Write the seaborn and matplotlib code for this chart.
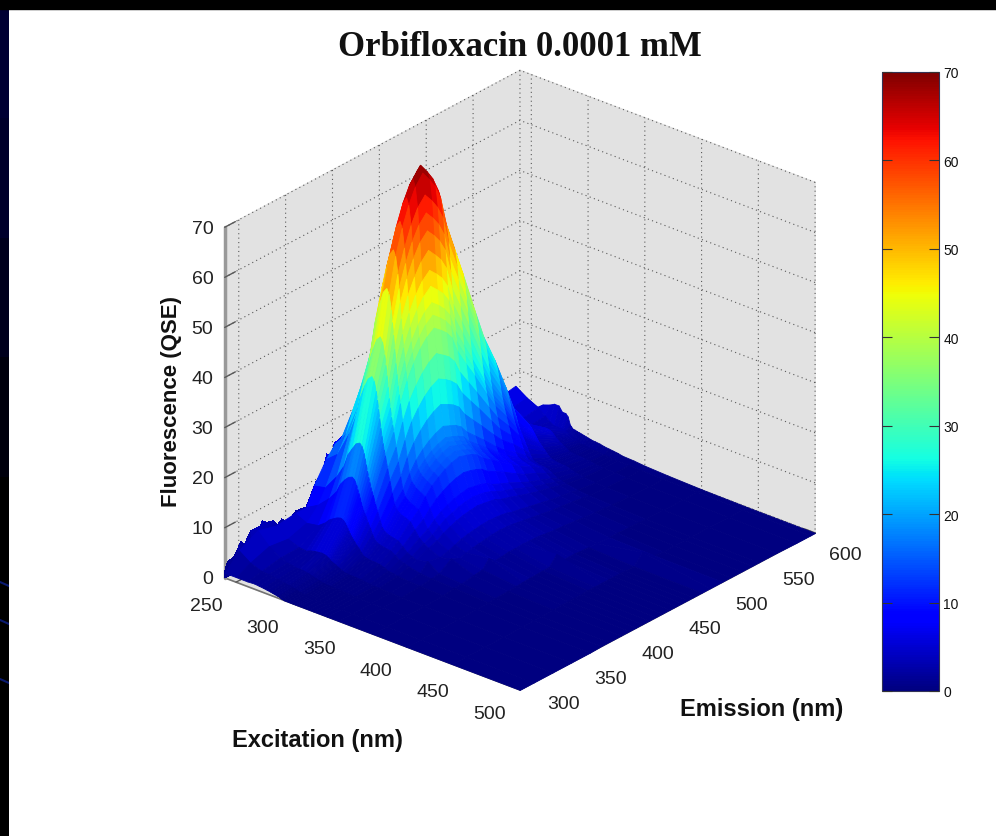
import numpy as np
import matplotlib
matplotlib.use('Agg')
import matplotlib.pyplot as plt
from matplotlib.colors import Normalize
from matplotlib.cm import ScalarMappable
from matplotlib.patches import Rectangle
import seaborn as sns

# values
excitation = [240, 250, 260, 266, 270, 274, 277, 280, 282, 284, 285, 286, 287, 288, 289, 290, 291, 292, 294,
              296, 298, 300, 302, 304, 306, 310, 314, 318, 322, 326, 330, 340, 350, 370, 400, 440, 500]
emission = [285, 300, 320, 340, 360, 372, 380, 393, 402, 409, 416, 423, 430, 437, 445, 452, 458, 464, 470,
            479, 488, 501, 510, 522, 533, 540, 559, 580, 595, 600]

ex240 = [1, 4, 6, 5, 5.5, 5.5, 9, 13, 15, 15.5, 17, 18, 18, 19, 20, 19.5, 18.5, 18, 17, 16, 14.5, 12.5, 11.5, 10.5, 10, 9, 8, 7, 7.5, 3]
ex250 = [1, 2.4, 3.7, 3.2, 4.4, 6.8, 9.5, 14.9, 18, 22, 25, 27.5, 29, 30.6, 31.5, 30.6, 29.7, 28.4, 25.7, 23, 20, 16, 13.5, 10.8, 8.4, 7.2, 6.4, 5.6, 6, 3.2]
ex260 = [1, 1.6, 2.3, 2.4, 4.8, 9, 12.6, 19.8, 24, 29.4, 33.6, 36.6, 39, 40.8, 42, 40.8, 39.6, 37.8, 34.2, 30.6, 27, 21.6, 18, 14.4, 10.6, 7.8, 5.2, 4.5, 4.9, 5]
ex266 = [1.1, 1.5, 1.8, 2.2, 5.8, 10.8, 15.1, 23.8, 28.8, 35.3, 40.3, 43.9, 46.8, 49, 50.4, 49, 47.5, 45.4, 41, 36.7, 32.4, 25.9, 21.6, 17.3, 12.7, 9.4, 5, 3.5, 3.8, 5.5]
ex270 = [1, 1.4, 1.7, 2.6, 6.8, 12.8, 17.9, 28, 34, 41.7, 47.6, 51.9, 55.3, 57.8, 59.5, 57.8, 56.1, 53.6, 48.5, 43.4, 38.3, 30.6, 25.5, 20.4, 15, 11, 6, 3.4, 3, 6]
ex274 = [.9, 1.2, 1.5, 2.8, 7.4, 14, 19.5, 30.7, 37.2, 45.6, 52, 56.7, 60.5, 63.2, 65.1, 63.2, 61.4, 58.6, 53, 47.4, 41.9, 33.5, 27.9, 22.3, 16.5, 12.1, 6.5, 3.7, 2.5, 6]
ex277 = [.8, 1.1, 1.5, 2.9, 7.8, 14.7, 20.6, 32.3, 39.2, 48, 54.9, 59.8, 63.7, 66.6, 68.6, 66.6, 64.7, 61.7, 55.9, 50, 44.1, 35.3, 29.4, 23.5, 17.3, 12.7, 6.9, 3.9, 2.5, 5]
ex280 = [.7, 1, 1.5, 3, 8, 15, 21, 33, 40, 49, 56, 61, 65, 68, 70, 68, 66, 63, 57, 51, 45, 36, 30, 24, 17.7, 13, 7, 4, 2.5, 5]
ex282 = [.6, .9, 1.4, 2.9, 7.8, 14.7, 20.6, 32.3, 39.2, 48, 54.9, 59.8, 63.7, 66.6, 68.6, 66.6, 64.7, 61.7, 55.9, 50, 44.1, 35.3, 29.4, 23.5, 17.3, 12.7, 6.9, 3.9, 2.5, 4.5]
ex284 = [.5, .8, 1.3, 2.8, 7.4, 13.8, 19.3, 30.4, 36.8, 45, 51.5, 56, 59.8, 62.6, 64.4, 62.6, 60.7, 58, 52.4, 46.9, 41.4, 33.1, 27.6, 22, 16.3, 12, 6.4, 3.7, 2.3, 3]
ex285 = [.5, .8, 1.3, 2.6, 7, 13, 18.3, 28.7, 34.8, 42.6, 48.7, 53, 56.6, 59.2, 60.9, 59.2, 57.4, 54.8, 49.6, 44.4, 39.2, 31.3, 26.1, 20.9, 15.4, 11.3, 6.1, 3.5, 2.2, 2.8]
ex286 = [.4, .7, 1.2, 2.5, 6.6, 12.3, 17.2, 27, 32.8, 40.2, 45.9, 50, 53.3, 55.8, 57.4, 55.8, 54.1, 51.7, 46.7, 41.8, 36.9, 29.5, 24.6, 19.7, 14.5, 10.7, 5.7, 3.3, 2.1, 2.5]
ex287 = [.4, .7, 1.1, 2.3, 6.1, 11.5, 16, 25.2, 30.6, 37.5, 42.8, 46.7, 49.7, 52, 53.6, 52, 50.5, 48.2, 43.6, 39, 34.4, 27.5, 23, 18.4, 13.5, 9.9, 5.4, 3.1, 1.9, 2.4]
ex288 = [.3, .6, 1.1, 2.1, 5.7, 10.7, 14.9, 23.4, 28.4, 34.8, 39.8, 43.3, 46.2, 48.3, 49.7, 48.3, 46.9, 44.7, 40.5, 36.2, 32, 25.6, 21.3, 17, 12.6, 9.2, 5, 2.8, 1.8, 2.4]
ex289 = [.2, .6, 1, 2, 5.3, 10, 14, 21.9, 26.6, 32.6, 37.2, 40.6, 43.2, 45.2, 46.6, 45.2, 43.9, 41.9, 37.9, 33.9, 29.9, 23.9, 20, 16, 11.8, 8.6, 4.7, 2.7, 1.7, 2.3]
ex290 = [.1, .5, .9, 1.9, 5, 9.3, 13, 20.5, 24.8, 30.4, 34.7, 37.8, 40.3, 42.2, 43.4, 42.2, 40.9, 39.1, 35.3, 31.6, 27.9, 22.3, 18.6, 14.9, 11, 8.1, 4.3, 2.5, 1.6, 2.3]
ex291 = [.1, .5, .9, 1.8, 4.7, 8.8, 12.3, 19.3, 23.4, 28.7, 32.8, 35.7, 38, 39.8, 41, 39.8, 38.6, 36.9, 33.3, 29.8, 26.3, 21, 17.6, 14, 10.4, 7.6, 4.1, 2.3, 1.5, 2.2]
ex292 = [0, .4, .8, 1.7, 4.4, 8.3, 11.6, 18.2, 22, 27, 30.8, 33.6, 35.8, 37.4, 38.5, 37.4, 36.3, 34.7, 31.4, 28, 24.8, 19.8, 16.5, 13.2, 9.7, 7.2, 3.9, 2.2, 1.4, 2.2]
ex294 = [0, .3, .7, 1.4, 3.8, 7.2, 10, 15.8, 19.2, 23.5, 26.9, 29.3, 31.2, 32.6, 33.6, 32.6, 31.7, 30.2, 27.4, 24.5, 21.6, 17.3, 14.4, 11.5, 8.5, 6.2, 3.4, 1.9, 1.2, 2.1]
ex296 = [0, .2, .6, 1.2, 3.3, 6.2, 8.6, 13.5, 16.4, 20, 23, 25, 26.7, 27.9, 28.7, 27.9, 27, 25.8, 23.4, 20.9, 18.5, 14.8, 12.3, 9.8, 7.3, 5.3, 2.9, 1.6, 1, 2]
ex298 = [0, .1, .5, 1, 2.7, 5.1, 7.1, 11.2, 13.6, 16.7, 19, 20.7, 22.1, 23.1, 23.8, 23.1, 22.4, 21.4, 19.4, 17.3, 15.3, 12.2, 10.2, 8.2, 6, 4.4, 2.4, 1.4, .9, 1.9]
ex300 = [0, 0, .4, .8, 2.2, 4.2, 5.9, 9.2, 11.2, 13.7, 15.7, 17.1, 18.2, 19, 19.6, 19, 18.5, 17.6, 16, 14.3, 12.6, 10, 8.4, 6.7, 5, 3.6, 2, 1.1, .9, 1.8]
ex302 = [0, 0, .4, .8, 2, 3.8, 5.3, 8.3, 10, 12.3, 14, 15.3, 16.3, 17, 17.5, 17, 16.5, 15.8, 14.3, 12.8, 11.3, 9, 7.5, 6, 4.4, 3.3, 1.8, 1, .8, 1.7]
ex304 = [0, 0, .4, .7, 1.9, 3.6, 5, 7.9, 9.6, 11.8, 13.4, 14.6, 15.6, 16.3, 16.8, 16.3, 15.8, 15.1, 13.7, 12.2, 10.8, 8.6, 7.2, 5.8, 4.2, 3.1, 1.7, 1, .8, 1.6]
ex306 = [0, 0, .3, .7, 1.8, 3.5, 4.8, 7.6, 9.2, 11.3, 12.9, 14, 15, 15.6, 16.1, 15.6, 15.2, 14.5, 13.1, 11.7, 10.4, 8.3, 6.9, 5.5, 4.1, 3, 1.6, .9, .7, 1.6]
ex310 = [0, 0, .3, .7, 1.8, 3.3, 4.6, 7.3, 8.8, 10.8, 12.3, 13.4, 14.3, 15, 15.4, 15, 14.5, 13.9, 12.5, 11.2, 9.9, 7.9, 6.6, 5.3, 3.9, 2.9, 1.5, .9, .6, 1.5]
ex314 = [0, 0, .3, .6, 1.7, 3.2, 4.4, 6.9, 8.4, 10.3, 11.8, 12.8, 13.7, 14.3, 14.7, 14.3, 13.9, 13.2, 12, 10.7, 9.5, 7.6, 6.3, 5, 3.7, 2.7, 1.5, .8, .6, 1.3]
ex318 = [0, 0, .3, .5, 1.4, 2.6, 3.6, 5.6, 6.8, 8.3, 9.5, 10.4, 11.1, 11.6, 11.9, 11.6, 11.2, 10.7, 9.7, 8.7, 7.7, 6.1, 5.1, 4.1, 3, 2.2, 1.2, .7, .5, 1.2]
ex322 = [0, 0, .2, .4, 1, 2, 2.7, 4.3, 5.2, 6.4, 7.3, 7.9, 8.5, 8.8, 9.1, 8.8, 8.6, 8.2, 7.4, 6.6, 5.9, 4.7, 3.9, 3.1, 2.3, 1.7, .9, .5, .4, 1.1]
ex326 = [0, 0, .2, .3, .9, 1.7, 2.3, 3.6, 4.4, 5.4, 6.2, 6.7, 7.2, 7.5, 7.7, 7.5, 7.3, 6.9, 6.3, 5.6, 5, 4, 3.3, 2.6, 1.9, 1.4, .8, .4, .4, 1]
ex330 = [0, 0, .1, .3, .7, 1.4, 1.9, 3, 3.6, 4.4, 5, 5.5, 5.9, 6.1, 6.3, 6.1, 5.9, 5.7, 5.1, 4.6, 4, 3.2, 2.7, 2.2, 1.6, 1.2, .6, .4, .3, .8]
ex340 = [0, 0, .1, .2, .5, .9, 2.5, 2, 2.4, 2.9, 3.4, 3.7, 3.9, 4.1, 4.2, 4.1, 4, 3.8, 3.4, 3.1, 2.7, 2.2, 1.8, 1.4, 1.1, .8, .4, .3, .3, .7]
ex350 = [0, 0, .1, .1, .4, .7, .9, 2.6, 1.8, 2.2, 2.5, 2.7, 2.9, 3.1, 3.2, 3.1, 3, 2.8, 2.6, 2.3, 2, 1.6, 1.4, 1.1, .8, .6, .3, .2, .2, .5]
ex370 = [0, 0, .1, .1, .2, .5, .6, 1, 1.2, 2.8, 1.7, 1.8, 2, 2, 2.1, 2, 2, 1.9, 1.7, 1.5, 1.4, 1.1, .9, .7, .5, .4, .2, .1, .1, .3]
ex400 = [0, 0, 0, .1, .1, .2, .3, .4, .5, .6, .7, .7, .8, .8, 2.6, .8, .8, .8, .7, .6, .5, .4, .4, .3, .2, .2, .1, .1, .1, .1]
ex440 = [0, 0, 0, 0, 0, .1, .1, .1, .2, .2, .2, .2, .3, .3, .3, .3, .3, .3, .2, .2, 2.2, .2, .1, .1, .1, .1, .1, 0, 0, 0]
ex500 = [0, 0, 0, 0, 0, .1, .1, .1, .1, .1, .1, .1, .1, .1, .1, .1, .1, .1, .1, .1, .1, .1, .1, .1, .1, .1, .1, 0, 0, 0]

# jagged top edge of the surface along the back wall
edge_em = [285, 288, 294, 299, 302, 306, 313, 323, 325, 330, 337, 341, 346, 351, 361, 372,
           382, 389, 394, 398, 402, 414, 422, 426, 431, 434, 445]
edge_z = [1.3, 3, 3.1, 4.3, 5.6, 4.6, 6.6, 6.6, 7.4, 6.6, 6.2, 4.9, 5.7, 4.3, 5.8, 5.5,
          9.4, 10.7, 13.9, 12.9, 15.2, 16, 19.5, 18.5, 18.3, 20.6, 22]

ex_ticks = [250, 300, 350, 400, 450, 500]
em_ticks = [300, 350, 400, 450, 500, 550, 600]
z_ticks = [0, 10, 20, 30, 40, 50, 60, 70]

fluorescence = np.array([ex240, ex250, ex260, ex266, ex270, ex274, ex277, ex280, ex282, ex284, ex285, ex286,
                         ex287, ex288, ex289, ex290, ex291, ex292, ex294, ex296, ex298, ex300, ex302, ex304,
                         ex306, ex310, ex314, ex318, ex322, ex326, ex330, ex340, ex350, ex370, ex400, ex440, ex500])

sns.set_style('white', rc={'grid.color': '0.35', 'grid.linestyle': (0, (1, 3)), 'grid.linewidth': 0.8,
                           'xtick.bottom': True, 'ytick.left': True})
plt.rcParams['font.family'] = ['Liberation Sans', 'DejaVu Sans']
jet = matplotlib.colormaps['jet']  # seaborn refuses this one by name
norm = Normalize(0, 70)

W, H = 996, 837
fig = plt.figure(figsize=(W / 100, H / 100), dpi=100, facecolor='white')

# slide background showing at the edges
strip = fig.add_axes([0, 0, 9 / W, 1])
strip.imshow(np.array([[1, 0.85, 0.55, 0.25, 0, 0, 0]]).T,
             cmap=sns.blend_palette(['#000000', '#000033'], as_cmap=True),
             extent=[0, 9, 0, H], aspect='auto')
for yy in [252, 214, 155]:
    strip.plot([0, 9], [yy + 2, yy - 2], color='#0a1a70', lw=1.5)
strip.set_xlim(0, 9)
strip.set_ylim(0, H)
strip.axis('off')
fig.add_artist(Rectangle((0, 1 - 10 / H), 1, 10 / H, transform=fig.transFigure, color='black'))

size = 695
ax = fig.add_axes([163 / W, 99 / H, size / W, size / H], projection='3d', computed_zorder=False)
ax.set_proj_type('ortho')
ax.view_init(elev=26.7, azim=-49.8)
ax.set_box_aspect((386, 457, 392))
ax.patch.set_alpha(0)

X, Y = np.meshgrid(excitation, emission, indexing='ij')
ax.plot_surface(np.full((2, len(edge_em)), excitation[0]),
                np.array([edge_em, edge_em]),
                np.array([edge_z, np.zeros(len(edge_z))]),
                cmap=jet, norm=norm, rstride=1, cstride=1, linewidth=0, antialiased=False,
                shade=False, zorder=1)

# mplot3d's depth sort breaks on tall faces, so paint cell by cell from the back corner
n_ex, n_em = fluorescence.shape
for i in range(n_ex - 1):
    for j in range(n_em - 2, -1, -1):
        cell = fluorescence[i:i + 2, j:j + 2]
        ax.plot_surface(X[i:i + 2, j:j + 2], Y[i:i + 2, j:j + 2], cell,
                        facecolors=np.array([[jet(norm(cell.mean()))]]), linewidth=0.6,
                        shade=False, zorder=2 + i * n_em + (n_em - j))

ax.set_xlim(240, 500)
ax.set_ylim(285, 600)
ax.set_zlim(0, 70)
ax.set_xticks(ex_ticks)
ax.set_yticks(em_ticks)
ax.set_zticks(z_ticks)
ax.grid(True)

for a in (ax.xaxis, ax.yaxis, ax.zaxis):
    a.set_pane_color((0.886, 0.886, 0.886, 1))
    a.pane.set_edgecolor((0.886, 0.886, 0.886, 1))
    a.line.set_color('0.45')
    a.line.set_linewidth(1.2)
    a._axinfo['tick']['inward_factor'] = 0
    a._axinfo['tick']['outward_factor'] = 0.45
    a._axinfo['tick']['color'] = '0.35'
    a._axinfo['tick']['linewidth'] = {True: 1.0, False: 0.5}
    a.set_tick_params(bottom=True)
ax.zaxis.set_ticks_position('lower')
ax.zaxis.line.set_color('0.6')
ax.zaxis.line.set_linewidth(2.5)
ax.tick_params(axis='both', colors='0.35', width=0.9, labelcolor='#222222', labelsize=14, pad=4)
ax.tick_params(axis='z', pad=-3)
for t in ax.get_xticklabels():
    t.set_ha('right')
    t.set_va('center')
for t in ax.get_yticklabels():
    t.set_ha('left')
    t.set_va('center')
for t in ax.get_zticklabels():
    t.set_ha('right')
    t.set_va('center')

fig.text(520 / W, 1 - 47 / H, 'Orbifloxacin 0.0001 mM', family='Liberation Serif', weight='bold',
         fontsize=25, ha='center', va='center', color='#111111')
fig.text(317 / W, 1 - 741 / H, 'Excitation (nm)', weight='bold', fontsize=17, ha='center', va='center', color='#111111')
fig.text(762 / W, 1 - 710 / H, 'Emission (nm)', weight='bold', fontsize=17, ha='center', va='center', color='#111111')
fig.text(171 / W, 1 - 402 / H, 'Fluorescence (QSE)', weight='bold', fontsize=16, rotation=90, ha='center', va='center', color='#111111')

cax = fig.add_axes([882 / W, (H - 692) / H, 57 / W, 619 / H])
cb = fig.colorbar(ScalarMappable(norm=norm, cmap=jet), cax=cax, ticks=z_ticks)
cb.outline.set_edgecolor('#333355')
cb.outline.set_linewidth(0.8)
cax.set_axisbelow(False)
cax.tick_params(axis='y', which='major', direction='in', length=7, width=0.8, left=True, right=True,
                color='#333333', labelsize=10, pad=3, labelcolor='#111111')

fig.savefig('out.png', dpi=100, facecolor='white')
